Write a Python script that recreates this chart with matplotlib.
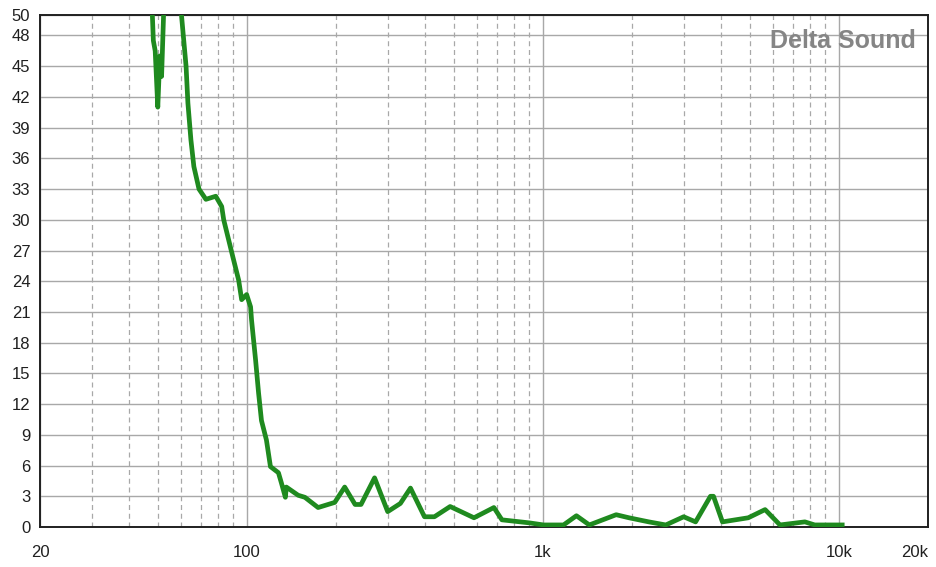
import matplotlib
matplotlib.use("Agg")
import matplotlib.pyplot as plt

# Measured curve (frequency in Hz, level)
FREQ = [47.5, 48.3, 49.0, 50.0, 50.8, 51.5, 52.3, 53.0, 56.0, 59.9, 62.3, 63.2,
        64.7, 66.2, 68.9, 72.7, 78.5, 82.2, 83.5, 88.9, 93.8, 96.0, 99.8,
        102.9, 103.7, 107, 109.5, 112, 116.4, 120.1, 127.8, 130.8, 134.9, 135.9,
        149, 157, 174, 198, 214, 232, 243, 270, 299, 330, 357, 398, 430, 486,
        585, 683, 727, 902, 1005, 1174, 1298, 1435, 1768, 1954, 2280, 2602,
        2989, 3280, 3682, 3770, 4042, 4940, 5632, 6324, 7674, 8288, 10450]
LEVEL = [53.0, 47.5, 46.5, 41.0, 46.0, 44.0, 50.0, 53.0, 58.0, 50.5, 45.0, 41.4,
         37.8, 35.2, 33.0, 32.0, 32.3, 31.3, 30.0, 26.8, 24.1, 22.2, 22.7,
         21.5, 20.2, 16.3, 13.1, 10.4, 8.5, 5.9, 5.3, 4.3, 2.9, 3.9,
         3.1, 2.9, 1.9, 2.4, 3.9, 2.2, 2.2, 4.8, 1.5, 2.3, 3.8, 1.0, 1.0, 2.0,
         0.9, 1.9, 0.7, 0.4, 0.2, 0.2, 1.1, 0.2, 1.2, 0.9, 0.5, 0.2,
         1.0, 0.5, 3.0, 3.0, 0.5, 0.9, 1.7, 0.2, 0.5, 0.2, 0.2]

X_TICKS = [20, 100, 1000, 10000, 20000]
X_LABELS = ["20", "100", "1k", "10k", "20k"]
X_MINOR = [30, 40, 50, 60, 70, 80, 90, 200, 300, 400, 500, 600, 700, 800, 900,
           2000, 3000, 4000, 5000, 6000, 7000, 8000, 9000]
Y_TICKS = [0, 3, 6, 9, 12, 15, 18, 21, 24, 27, 30, 33, 36, 39, 42, 45, 48, 50]

plt.rcParams["font.family"] = ["Liberation Sans", "DejaVu Sans"]

fig = plt.figure(figsize=(9.37, 5.67), dpi=100)
ax = fig.add_axes([40 / 937, 1 - 527 / 567, 888 / 937, 512 / 567])

ax.plot(FREQ, LEVEL, color="#1f8a1f", lw=3.4, solid_joinstyle="round",
        solid_capstyle="butt", zorder=3)

ax.set_xscale("log")
ax.set_xlim(20, 20000)
ax.set_ylim(0, 50)
ax.set_xticks(X_TICKS)
ax.set_xticklabels(X_LABELS)
ax.get_xticklabels()[-1].set_horizontalalignment("right")
ax.set_xticks(X_MINOR, minor=True)
ax.set_xticklabels([], minor=True)
ax.set_yticks(Y_TICKS)
ax.set_yticklabels([str(v) for v in Y_TICKS])

ax.tick_params(axis="both", which="both", length=0, labelsize=12, colors="#202020")
ax.tick_params(axis="x", pad=13)
ax.tick_params(axis="y", pad=7)

ax.grid(True, which="major", axis="both", color="#a8a8a8", lw=1.0, zorder=1)
ax.grid(True, which="minor", axis="x", color="#a8a8a8", lw=0.9, ls=(0, (4, 3)), zorder=1)
ax.set_axisbelow(True)

for s in ax.spines.values():
    s.set_color("#202020")
    s.set_linewidth(1.4)

ax.text(0.986, 0.95, "Delta Sound", transform=ax.transAxes, ha="right", va="center",
        fontsize=18, fontweight="bold", color="#858585", zorder=4)

fig.savefig("out.png", dpi=100)
